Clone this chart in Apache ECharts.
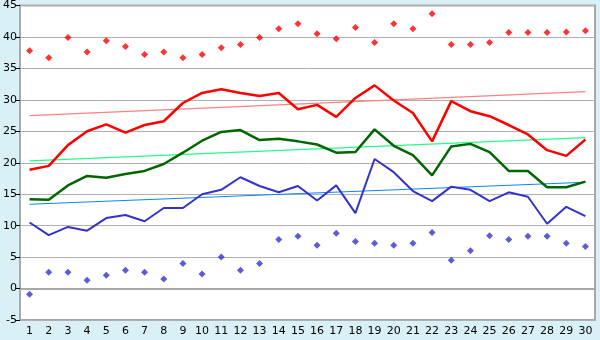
<!DOCTYPE html>
<html>
<head>
<meta charset="utf-8">
<script src="https://cdn.jsdelivr.net/npm/echarts@6/dist/echarts.min.js"></script>
<style>
  html, body { margin: 0; padding: 0; background: #daf0f7; }
  #chart { width: 600px; height: 340px; }
</style>
</head>
<body>
<div id="chart"></div>
<script>
// days of the month
const days = ['1','2','3','4','5','6','7','8','9','10','11','12','13','14','15',
  '16','17','18','19','20','21','22','23','24','25','26','27','28','29','30'];

// extreme highs (red points)
const highPoints = [37.8, 36.7, 39.9, 37.6, 39.4, 38.5, 37.2, 37.6, 36.7, 37.2,
  38.3, 38.8, 39.9, 41.3, 42.1, 40.5, 39.7, 41.5, 39.1, 42.1,
  41.3, 43.7, 38.8, 38.8, 39.1, 40.7, 40.7, 40.7, 40.8, 41.0];
// mean max (red line)
const maxLine = [18.9, 19.5, 22.8, 25.0, 26.1, 24.8, 26.0, 26.6, 29.5, 31.1,
  31.7, 31.1, 30.6, 31.1, 28.5, 29.2, 27.3, 30.3, 32.3, 29.9,
  27.9, 23.4, 29.8, 28.2, 27.4, 26.0, 24.5, 22.0, 21.1, 23.7];
// mean (green line)
const meanLine = [14.2, 14.1, 16.4, 17.9, 17.6, 18.2, 18.7, 19.8, 21.6, 23.5,
  24.9, 25.2, 23.6, 23.8, 23.4, 22.9, 21.6, 21.7, 25.3, 22.7,
  21.2, 18.0, 22.6, 23.0, 21.7, 18.7, 18.7, 16.1, 16.1, 17.0];
// mean min (blue line)
const minLine = [10.5, 8.5, 9.8, 9.2, 11.2, 11.7, 10.7, 12.8, 12.8, 15.0,
  15.7, 17.7, 16.3, 15.3, 16.3, 14.0, 16.4, 12.0, 20.6, 18.5,
  15.5, 13.9, 16.2, 15.7, 13.9, 15.3, 14.6, 10.3, 13.0, 11.5];
// extreme lows (blue points)
const lowPoints = [-0.9, 2.6, 2.6, 1.3, 2.1, 2.9, 2.6, 1.5, 4.0, 2.3,
  5.0, 2.9, 4.0, 7.8, 8.3, 6.9, 8.8, 7.5, 7.2, 6.9,
  7.2, 8.9, 4.5, 6.0, 8.4, 7.8, 8.3, 8.3, 7.2, 6.7];

// trend lines: value at day 1 and day 30
const maxTrend = [27.5, 31.3];
const meanTrend = [20.3, 24.0];
const minTrend = [13.4, 16.9];

const trendData = (t) => [[days[0], t[0]], [days[days.length - 1], t[1]]];

const chart = echarts.init(document.getElementById('chart'));
const lineSeries = (data, color, width) => ({
  type: 'line', data: data, symbol: 'none', silent: true,
  lineStyle: { color: color, width: width }
});
const trendSeries = (t, color) => ({
  type: 'line', data: trendData(t), symbol: 'none', silent: true,
  lineStyle: { color: color, width: 1.2 }
});
const pointSeries = (data, color) => ({
  type: 'scatter', data: data, symbol: 'diamond', symbolSize: 7,
  itemStyle: { color: color }
});

chart.setOption({
  animation: false,
  backgroundColor: '#daf0f7',
  grid: {
    left: 20, right: 5, top: 5, bottom: 20,
    show: true, backgroundColor: '#ffffff', borderColor: '#a8a8a8', borderWidth: 2
  },
  xAxis: {
    type: 'category',
    data: days,
    boundaryGap: true,
    axisLine: { lineStyle: { color: '#a8a8a8', width: 2 } },
    axisTick: { alignWithLabel: true, length: 5, lineStyle: { color: '#000' } },
    axisLabel: { color: '#000', fontFamily: 'DejaVu Sans', fontSize: 11, margin: 6, interval: 0 },
    splitLine: { show: false }
  },
  yAxis: {
    type: 'value',
    min: -5, max: 45, interval: 5,
    axisLine: { show: true, lineStyle: { color: '#a8a8a8', width: 2 } },
    axisTick: { show: true, length: 4, lineStyle: { color: '#000' } },
    axisLabel: { color: '#000', fontFamily: 'DejaVu Sans', fontSize: 11, margin: 3 },
    splitLine: { lineStyle: { color: '#b0b0b0', width: 1 } }
  },
  series: [
    trendSeries(maxTrend, '#ff8080'),
    trendSeries(meanTrend, '#22ff88'),
    trendSeries(minTrend, '#0a84ff'),
    lineSeries(maxLine, '#ff0000', 2.5),
    lineSeries(meanLine, '#006600', 2.5),
    lineSeries(minLine, '#3333cc', 2),
    pointSeries(highPoints, '#ff0000'),
    pointSeries(lowPoints, '#3333cc')
  ]
});
</script>
</body>
</html>
